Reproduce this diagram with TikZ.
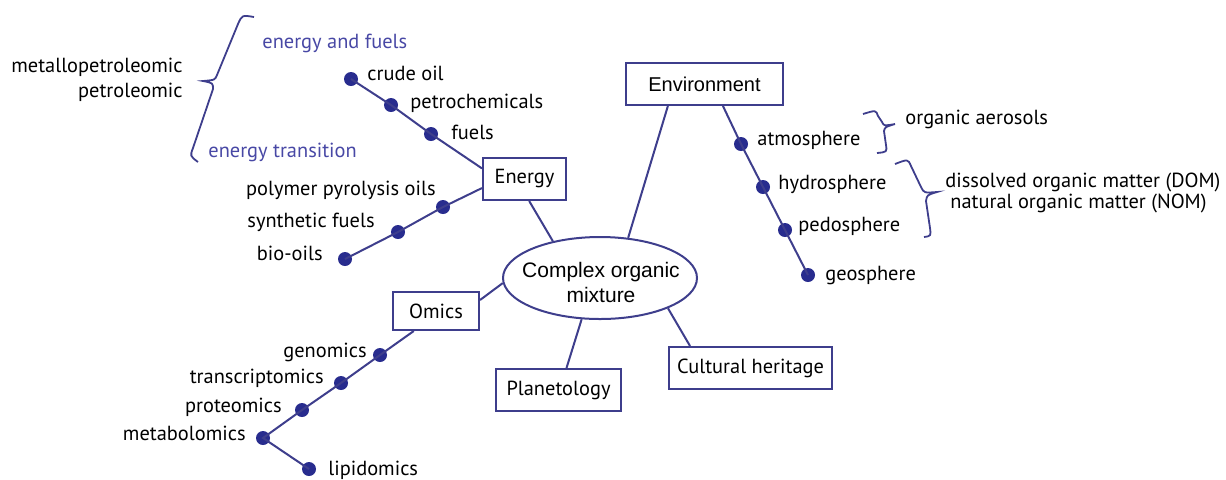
\documentclass[tikz,border=0pt]{standalone}
\usepackage{fontspec}
\setmainfont{PT Sans}
\newfontfamily\boxfont{Liberation Sans}
\usetikzlibrary{shapes.geometric}
\definecolor{linkblue}{RGB}{62,62,140}
\definecolor{dotblue}{RGB}{40,44,142}
\definecolor{noteblue}{RGB}{72,72,165}
\tikzset{
  wire/.style={linkblue,line width=1pt},
  bracket/.style={linkblue,line width=0.9pt},
  dot/.style={circle,fill=dotblue,inner sep=0pt,minimum size=7pt},
  topic/.style={draw=linkblue,line width=1pt,fill=white,inner sep=0pt,
                minimum height=21pt,font=\fontsize{10.2}{12}\selectfont},
  hub/.style={ellipse,draw=linkblue,line width=1pt,inner sep=0pt,
              minimum width=97pt,minimum height=41pt},
  hubtext/.style={inner sep=0pt,align=center,
              font=\boxfont\fontsize{10.5}{12.5}\selectfont},
  item/.style={inner sep=0pt,font=\fontsize{10.2}{12}\selectfont},
  note/.style={item,text=noteblue},
}
\begin{document}
\begin{tikzpicture}[x=0.5pt,y=-0.5pt]
  \path[use as bounding box] (0,0) rectangle (1226,479);

  \node[hub] (mix) at (600,278) {};
  \node[hubtext] (mixlabel) at (601,282) {Complex organic\\mixture};
  \node[topic,minimum width=41.5pt] (energy) at (524.5,179) {Energy};
  \node[topic,minimum width=78.5pt,font=\boxfont\fontsize{10}{12}\selectfont] (env) at (704.5,84) {Environment};
  \node[topic,minimum width=43pt,minimum height=19pt] (omics) at (436,311) {Omics};
  \node[topic,minimum width=62.5pt] (planet) at (558.5,390) {Planetology};
  \node[topic,minimum width=81.5pt] (heritage) at (750.5,368) {Cultural heritage};

  \draw[wire] (energy.-78) -- (mix.142);
  \draw[wire] (env.211) -- (mix.55);
  \draw[wire] (omics.14) -- (mix.183);
  \draw[wire] (planet.70) -- (mix.246);
  \draw[wire] (heritage.160) -- (mix.336);

  % energy branches
  \node[dot] (crude) at (351,79) {};
  \node[dot] (petro) at (391,105) {};
  \node[dot] (fuels) at (431,134) {};
  \node[dot] (polymer) at (443,207) {};
  \node[dot] (synth) at (398,232) {};
  \node[dot] (bio) at (345,259) {};
  \draw[wire] (crude.center) -- (petro.center) -- (fuels.center) -- (energy.166);
  \draw[wire] (bio.center) -- (synth.center) -- (polymer.center) -- (energy.192);
  \node[item,anchor=west] (crudetxt) at (367,73) {crude oil};
  \node[item,anchor=west] (petrotxt) at (410,103) {petrochemicals};
  \node[item,anchor=west] (fuelstxt) at (451,132) {fuels};
  \node[item,anchor=east] (polymertxt) at (436,190) {polymer pyrolysis oils};
  \node[item,anchor=east] (synthtxt) at (375,222) {synthetic fuels};
  \node[item,anchor=east] (biotxt) at (323,253) {bio-oils};

  \node[note,anchor=west] (fueltxt) at (262,43) {energy and fuels};
  \node[note,anchor=west] (transtxt) at (208,152) {energy transition};
  \node[item,anchor=east] (metaltxt) at (183,67) {metallopetroleomic};
  \node[item,anchor=east] (pettxt) at (183,92) {petroleomic};
  \draw[bracket] (254,17) .. controls (242,15) .. (238,24) -- (217,75)
    .. controls (215,80) .. (203,81) .. controls (213,83) .. (213,89)
    -- (193,148) .. controls (190,156) .. (198,162);

  % environment branch
  \node[dot] (atmo) at (741,144) {};
  \node[dot] (hydro) at (763,187) {};
  \node[dot] (pedo) at (785,230) {};
  \node[dot] (geo) at (808,275) {};
  \draw[wire] (env.-50) -- (atmo.center) -- (hydro.center) -- (pedo.center) -- (geo.center);
  \node[item,anchor=west] (atmotxt) at (757,140) {atmosphere};
  \node[item,anchor=west] (hydrotxt) at (778,184) {hydrosphere};
  \node[item,anchor=west] (pedotxt) at (798,226) {pedosphere};
  \node[item,anchor=west] (geotxt) at (825,276) {geosphere};
  \node[item,anchor=west] (aerotxt) at (905,119) {organic aerosols};
  \node[item,anchor=west] (domtxt) at (945,182) {dissolved organic matter (DOM)};
  \node[item,anchor=west] (nomtxt) at (950,203) {natural organic matter (NOM)};
  \draw[bracket] (863,114) .. controls (876,110) .. (878,116) -- (882,122)
    .. controls (884,126) .. (895,124) .. controls (885,127) .. (884,131)
    -- (886,145) .. controls (887,152) .. (877,153);
  \draw[bracket] (895,164) .. controls (908,159) .. (911,166) -- (921,187)
    .. controls (924,193) .. (937,192) .. controls (927,195) .. (926,201)
    -- (930,228) .. controls (931,236) .. (924,237);

  % omics branch
  \node[dot] (geno) at (380,355) {};
  \node[dot] (trans) at (341,383) {};
  \node[dot] (prot) at (302,410) {};
  \node[dot] (metab) at (263,438) {};
  \node[dot] (lipid) at (309,469) {};
  \draw[wire] (omics.222) -- (geno.center) -- (trans.center) -- (prot.center)
    -- (metab.center) -- (lipid.center);
  \node[item,anchor=east] (genotxt) at (367,352) {genomics};
  \node[item,anchor=east] (transtxt2) at (324,378) {transcriptomics};
  \node[item,anchor=east] (prottxt) at (282,407) {proteomics};
  \node[item,anchor=east] (metabtxt) at (246,433) {metabolomics};
  \node[item,anchor=west] (lipidtxt) at (328,470) {lipidomics};
\end{tikzpicture}
\end{document}
